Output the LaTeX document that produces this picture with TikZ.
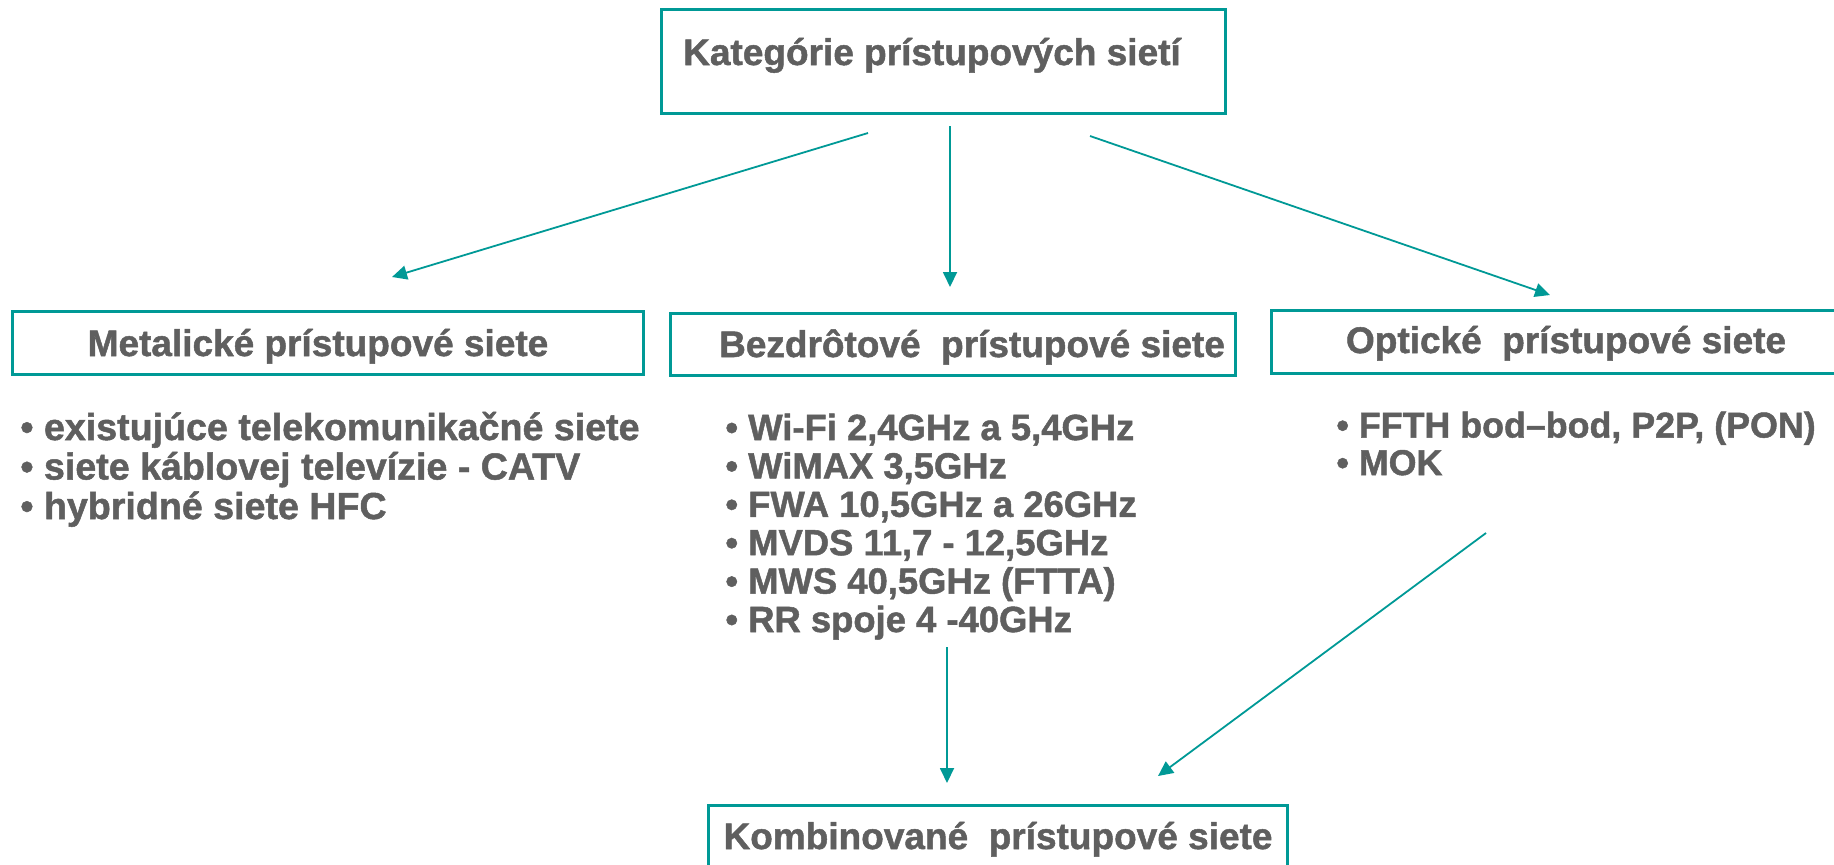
\documentclass[tikz,border=0pt]{standalone}
\usepackage{fontspec}
\setmainfont{Liberation Sans}[BoldFeatures={FakeBold=1.3}]
\usetikzlibrary{arrows.meta}
\definecolor{tyrkys}{RGB}{0,153,150}
\definecolor{sedy}{RGB}{95,95,95}
\tikzset{
	ramcek/.style={draw=tyrkys, line width=1.5pt, inner sep=0pt},
	nadpis/.style={text=sedy, font=\fontsize{18.5}{20}\selectfont\bfseries, anchor=base, inner sep=0pt},
	polozka/.style={text=sedy, font=\fontsize{#1}{20}\selectfont\bfseries, anchor=base west, inner sep=0pt},
	sipka/.style={draw=tyrkys, line width=0.9pt, -{Triangle[length=7.5pt, width=7pt]}}
}

\begin{document}
\begin{tikzpicture}[x=0.5pt, y=-0.5pt]
			\useasboundingbox (0,0) rectangle (1834,864);
			% boxes
			\node[ramcek, minimum width=282pt, minimum height=52pt] (kat) at (943,61) {};
			\node[nadpis] (katT) at (932,65) {Kategórie prístupových sietí};
			\node[ramcek, minimum width=315.5pt, minimum height=31.5pt] (met) at (327.5,342.5) {};
			\node[nadpis] (metT) at (318,356) {Metalické prístupové siete};
			\node[ramcek, minimum width=282.5pt, minimum height=31pt] (bez) at (952.5,344) {};
			\node[nadpis] (bezT) at (972,357) {Bezdrôtové \ prístupové siete};
			\node[ramcek, minimum width=287pt, minimum height=31.5pt] (opt) at (1558,341.5) {};
			\node[nadpis] (optT) at (1566,353) {Optické \ prístupové siete};
			\node[ramcek, minimum width=289.5pt, minimum height=37.5pt] (kom) at (997.5,842.5) {};
			\node[nadpis] (komT) at (998,849) {Kombinované \ prístupové siete};
			% lists
			\foreach \t [count=\i, evaluate=\i as \y using 440+(\i-1)*39.5] in
				{existujúce telekomunikačné siete, siete káblovej televízie - CATV, hybridné siete HFC}
				\node[polozka=18.8] (met\i) at (20,\y) {•\ \t};
			\foreach \t [count=\i, evaluate=\i as \y using 440+(\i-1)*38.4] in
				{{Wi-Fi 2,4GHz a 5,4GHz}, {WiMAX 3,5GHz}, {FWA 10,5GHz a 26GHz}, {MVDS 11,7 - 12,5GHz}, {MWS 40,5GHz (FTTA)}, {RR spoje 4 -40GHz}}
				\node[polozka=18.2] (bez\i) at (725,\y) {•\ \t};
			\foreach \t [count=\i, evaluate=\i as \y using 437.5+(\i-1)*37.5] in
				{{FFTH bod–bod, P2P, (PON)}, MOK}
				\node[polozka=17.9] (opt\i) at (1336,\y) {•\ \t};
			% arrows
			\coordinate (z1) at (868,133);  \coordinate (k1) at (392,277);
			\coordinate (z2) at (950,126);  \coordinate (k2) at (950,287);
			\coordinate (z3) at (1090,136); \coordinate (k3) at (1550,295);
			\coordinate (z4) at (947,647);  \coordinate (k4) at (947,783);
			\coordinate (z5) at (1486,533); \coordinate (k5) at (1158,776);
			\draw[sipka] (z1) -- (k1);
			\draw[sipka] (z2) -- (k2);
			\draw[sipka] (z3) -- (k3);
			\draw[sipka] (z4) -- (k4);
			\draw[sipka] (z5) -- (k5);
		\end{tikzpicture}
\end{document}
